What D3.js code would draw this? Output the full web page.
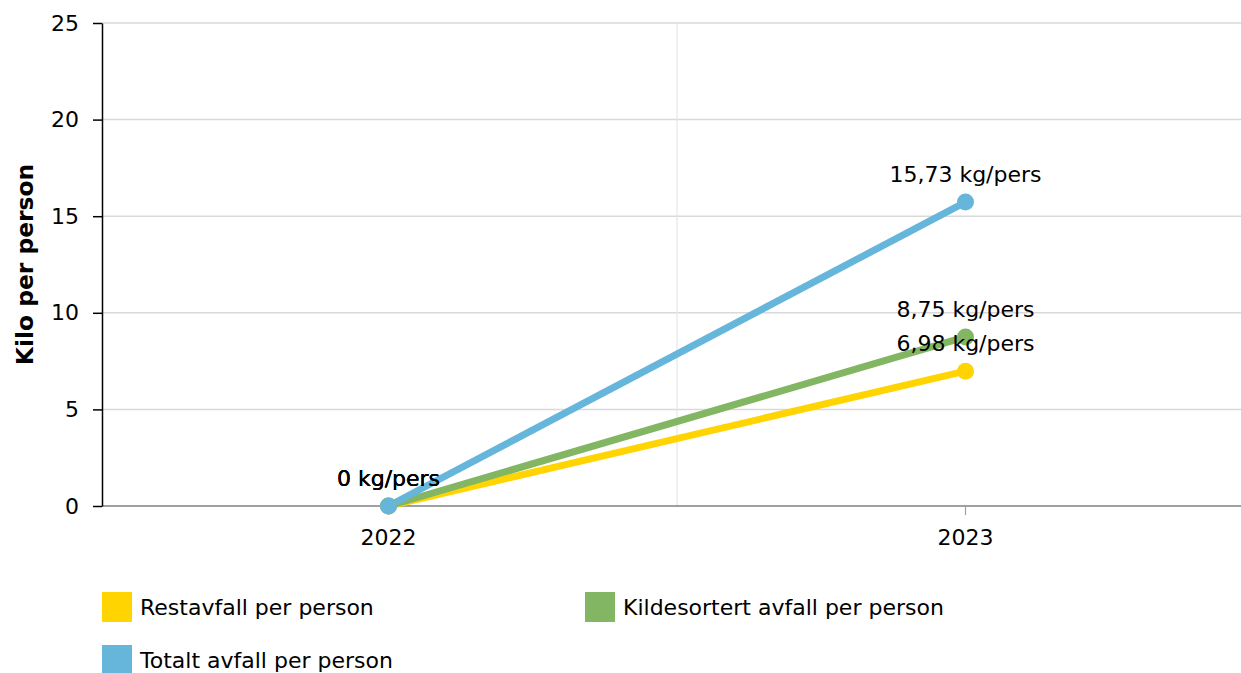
<!DOCTYPE html>
<html><head><meta charset="utf-8">
<script src="https://cdn.jsdelivr.net/npm/d3@7"></script>
<style>
html,body{margin:0;padding:0;background:#fff;}
svg{display:block;font-family:"DejaVu Sans",Verdana,sans-serif;}
</style></head>
<body><svg id="c" width="1241" height="673"></svg>
<script>
const years = ["2022", "2023"];
const seriesNames = ["Restavfall per person", "Kildesortert avfall per person", "Totalt avfall per person"];
const restavfall = [0, 6.98];
const kildesortert = [0, 8.75];
const totalt = [0, 15.73];
const yTicks = [0, 5, 10, 15, 20, 25];
const colors = ["#FFD400", "#82B662", "#66B6DC"];
const seriesValues = [restavfall, kildesortert, totalt];

(function () {
const svg = d3.select("#c");
const mL = 102, mR = 1254, mT = 23, mB = 506;
const x = d3.scaleBand().domain(years).range([100, mR]).padding(0);
const y = d3.scaleLinear().domain([0, 25]).range([mB, mT]);
const cx = d => x(d) + x.bandwidth() / 2;
const FS = 22;

// horizontal grid
svg.append("g").selectAll("line").data(yTicks.filter(t => t > 0)).join("line")
  .attr("x1", mL).attr("x2", mR).attr("y1", d => y(d)).attr("y2", d => y(d))
  .attr("stroke", "#d9d9d9").attr("stroke-width", 1.5);
// vertical grid between categories
svg.append("g").selectAll("line").data(years.slice(1)).join("line")
  .attr("x1", d => x(d)).attr("x2", d => x(d)).attr("y1", mT).attr("y2", mB)
  .attr("stroke", "#e6e6e6").attr("stroke-width", 1.2);

// x axis
const xAxis = svg.append("g").attr("transform", `translate(0,${mB})`)
  .call(d3.axisBottom(x).tickSize(9).tickPadding(14).tickSizeOuter(0));
xAxis.select(".domain").attr("d", `M${mL},0H${mR}`).attr("stroke", "#808080").attr("stroke-width", 1.5);
xAxis.selectAll(".tick line").attr("stroke", "#a0a0a0").attr("stroke-width", 1.2);
xAxis.selectAll("text").attr("font-size", FS).attr("fill", "#000").attr("font-family", "DejaVu Sans");

// y axis
const yAxis = svg.append("g").attr("transform", `translate(${mL},0)`)
  .call(d3.axisLeft(y).tickValues(yTicks).tickSize(9).tickPadding(14).tickSizeOuter(0));
yAxis.select(".domain").attr("stroke", "#000").attr("stroke-width", 1.5);
yAxis.selectAll(".tick line").attr("stroke", "#000").attr("stroke-width", 1.5);
yAxis.selectAll("text").attr("font-size", FS).attr("fill", "#000").attr("font-family", "DejaVu Sans");

// axis title
svg.append("text").attr("transform", `translate(33,${(mT + mB) / 2}) rotate(-90)`)
  .attr("text-anchor", "middle").attr("font-size", 23.4).attr("font-weight", "bold")
  .text("Kilo per person");

// lines
const line = d3.line().x((d, i) => cx(years[i])).y(d => y(d));
seriesValues.forEach((vals, s) => {
  svg.append("path").datum(vals).attr("d", line).attr("fill", "none")
    .attr("stroke", colors[s]).attr("stroke-width", 7).attr("stroke-linecap", "round");
});
seriesValues.forEach((vals, s) => {
  svg.append("g").selectAll("circle").data(vals).join("circle")
    .attr("cx", (d, i) => cx(years[i])).attr("cy", d => y(d)).attr("r", 8.5)
    .attr("fill", colors[s]);
});
// data labels
seriesValues.forEach((vals, s) => {
  svg.append("g").selectAll("text").data(vals).join("text")
    .attr("x", (d, i) => cx(years[i])).attr("y", d => y(d) - 20)
    .attr("text-anchor", "middle").attr("font-size", FS).attr("fill", "#000")
    .text(d => d3.format(".2~f")(d).replace(".", ",") + " kg/pers");
});

// legend
const legendPos = [[102, 592], [585, 592], [102, 645]];
seriesNames.forEach((name, s) => {
  const g = svg.append("g").attr("transform", `translate(${legendPos[s][0]},${legendPos[s][1]})`);
  g.append("rect").attr("width", 30).attr("height", 30).attr("fill", colors[s]);
  g.append("text").attr("x", 38).attr("y", 23).attr("font-size", FS).attr("fill", "#000").text(name);
});
})();
</script></body></html>
